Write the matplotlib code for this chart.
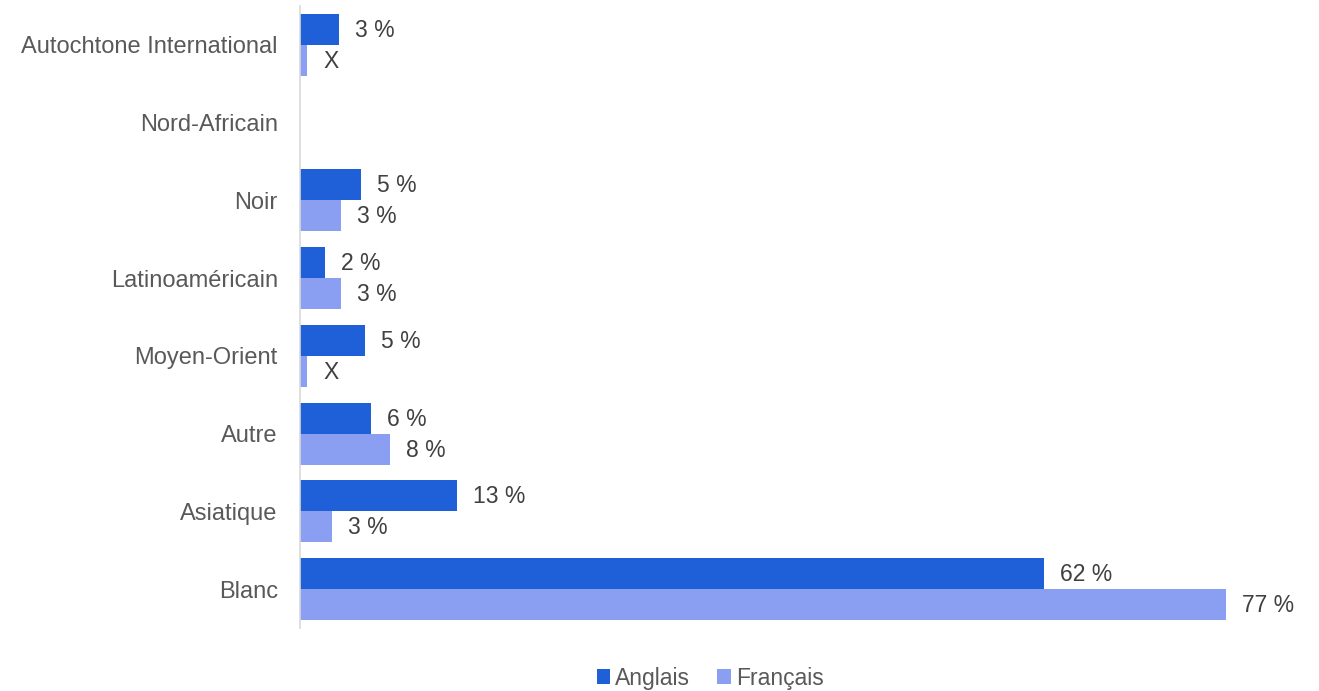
import numpy as np
import matplotlib.pyplot as plt

plt.rcParams['font.family'] = ['Liberation Sans', 'DejaVu Sans']

categories = ['Autochtone International', 'Nord-Africain', 'Noir', 'Latinoaméricain',
              'Moyen-Orient', 'Autre', 'Asiatique', 'Blanc']
# values (NaN = no bar)
anglais = [3.25, np.nan, 5.1, 2.1, 5.4, 5.9, 13.1, 62]
francais = [0.6, np.nan, 3.4, 3.4, 0.6, 7.5, 2.7, 77.15]
anglais_labels = ['3 %', '', '5 %', '2 %', '5 %', '6 %', '13 %', '62 %']
francais_labels = ['X', '', '3 %', '3 %', 'X', '8 %', '3 %', '77 %']

c_en = '#1F5FD8'
c_fr = '#8A9EF2'

fig = plt.figure(figsize=(13.19, 6.91), dpi=100)
ax = fig.add_axes([300 / 1319, 1 - 628 / 691, 1000 / 1319, 622 / 691])

y = np.arange(len(categories))
h = 0.4
b1 = ax.barh(y - h / 2, anglais, height=h, color=c_en, label='Anglais')
b2 = ax.barh(y + h / 2, francais, height=h, color=c_fr, label='Français')

# value labels next to each bar
for bars, labels in ((b1, anglais_labels), (b2, francais_labels)):
    for bar, lab in zip(bars, labels):
        if lab:
            ax.annotate(lab, (bar.get_width(), bar.get_y() + bar.get_height() / 2),
                        xytext=(16, -1), textcoords='offset pixels',
                        ha='left', va='center', fontsize=16.5, color='#404040')

ax.set_xlim(0, 83.3)
ax.set_ylim(-0.5, len(categories) - 0.5)
ax.invert_yaxis()
ax.set_yticks(y)
ax.set_yticklabels(categories, fontsize=17, color='#595959')
ax.tick_params(axis='y', length=0, pad=16)
ax.set_xticks([])
for s in ['top', 'right', 'bottom']:
    ax.spines[s].set_visible(False)
ax.spines['left'].set_color('#D9D9D9')
ax.spines['left'].set_linewidth(1.2)

fig.legend(handles=[b1, b2], loc='center', bbox_to_anchor=(710 / 1319, 1 - 678 / 691),
           ncol=2, frameon=False, fontsize=16.5, handlelength=0.6, handleheight=0.6,
           handletextpad=0.2, columnspacing=1.2, labelcolor='#595959')

fig.savefig('out.png', dpi=100)
